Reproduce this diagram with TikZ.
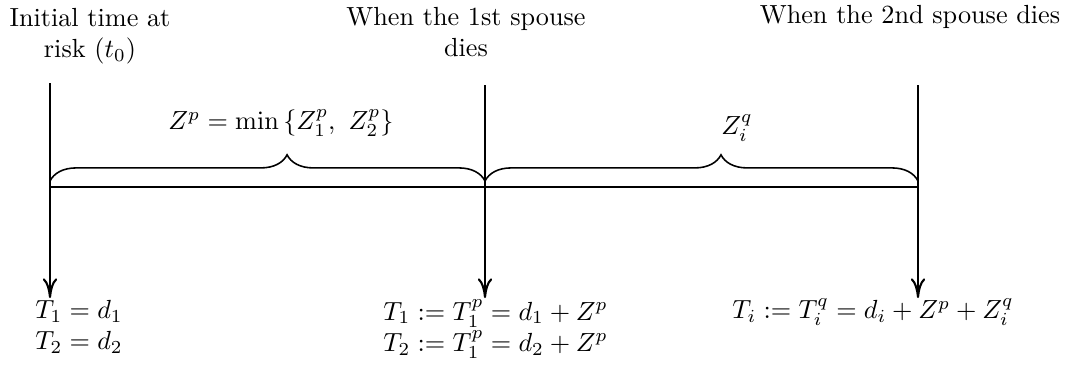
\documentclass[tikz,border=0pt]{standalone}
\usepackage{tikz}
\usetikzlibrary{arrows.meta,decorations.pathreplacing}

\begin{document}
\begin{tikzpicture}[x=0.01341cm,y=0.01341cm]
\useasboundingbox (0,0) rectangle (1070,365);
% the three time points
\coordinate (p0top) at (50,282);
\coordinate (p0bot) at (50,67);
\coordinate (p1top) at (485,280);
\coordinate (p1bot) at (485,67);
\coordinate (p2top) at (918,280);
\coordinate (p2bot) at (918,67);
\foreach \p in {p0,p1,p2} {
  \draw[thick,-{To[length=7.5pt,width=5.5pt]}] (\p top) -- (\p bot);
}
% time axis
\coordinate (a0) at (50,178);
\coordinate (a2) at (918,178);
\draw[semithick] (a0) -- (a2);
% braces over the two periods
\coordinate (b0) at (50,184);
\coordinate (b1) at (485,184);
\coordinate (b2) at (918,184);
\draw[semithick,decorate,decoration={brace,amplitude=10pt,aspect=0.545}] (b0) -- (b1);
\draw[semithick,decorate,decoration={brace,amplitude=10pt,aspect=0.545}] (b1) -- (b2);
\node (zp) at (281,242) {$Z^p = \min\,\{Z_1^p,\ Z_2^p\}$};
\node (zq) at (737,237) {$Z_i^q$};
% events
\node[align=center] (lab0) at (90,329) {Initial time at\\risk ($t_0$)};
\node[align=center] (lab1) at (466,333) {When the 1st spouse\\dies};
\node (lab2) at (910,348) {When the 2nd spouse dies};
% lifetimes
\node[anchor=west,align=left] (t0) at (26,38) {$T_1 = d_1$\\$T_2 = d_2$};
\node[anchor=west,align=left] (t1) at (374,36) {$T_1 := T_1^p = d_1 + Z^p$\\$T_2 := T_1^p = d_2 + Z^p$};
\node[anchor=west] (t2) at (723,53) {$T_i := T_i^q = d_i + Z^p + Z_i^q$};
\end{tikzpicture}
\end{document}
